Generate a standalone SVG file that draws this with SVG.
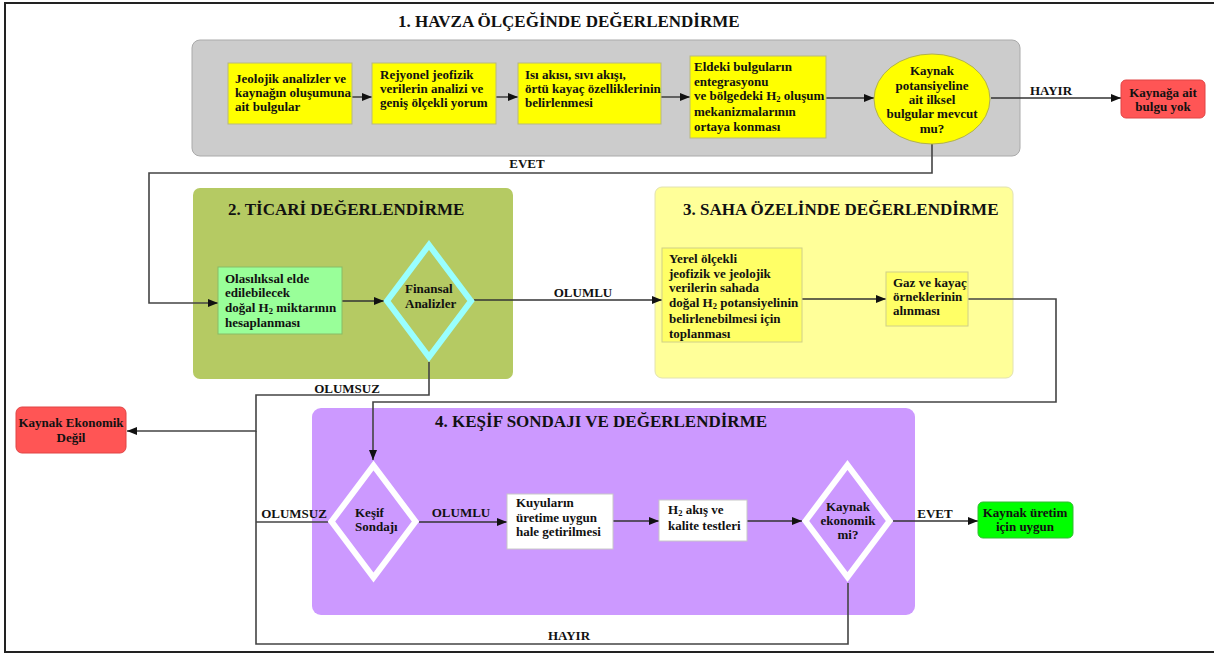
<svg xmlns="http://www.w3.org/2000/svg" width="1214" height="654" viewBox="0 0 1214 654">
<defs>
<marker id="arr" markerWidth="10" markerHeight="8" refX="10" refY="4" orient="auto" markerUnits="userSpaceOnUse">
<path d="M0,0 L10,4 L0,8 z" fill="#111"/>
</marker>
<style>
text{font-family:"Liberation Serif","Times New Roman",serif;font-weight:bold;fill:#111;}
.t{font-size:13px;}
.h{font-size:17px;}
.c{text-anchor:middle;}
.sub{font-size:8.5px;}
.con{fill:none;stroke:#333;stroke-width:1.4;}
.loop{fill:none;stroke:#444;stroke-width:1.6;}
.yb{fill:#ffff00;stroke:#b8b880;stroke-width:1;}
.red{fill:#ff5555;stroke:#e04545;stroke-width:1;}
.wb{fill:#ffffff;stroke:#c8c8c8;stroke-width:1;}
</style>
</defs>
<rect x="0" y="0" width="1214" height="654" fill="#ffffff"/>
<path d="M1216,3 H5 V652 H1216" fill="none" stroke="#222" stroke-width="2"/>

<g id="sec1">
<rect x="192" y="40" width="828" height="116" rx="8" fill="#cccccc" stroke="#aaaaaa" stroke-width="1"/>
<text class="h" x="398" y="27">1. HAVZA ÖLÇEĞİNDE DEĞERLENDİRME</text>
</g>
<g id="sec2">
<rect x="193" y="188" width="320" height="191" rx="7" fill="#b5ca63"/>
<text class="h" x="228" y="215">2. TİCARİ DEĞERLENDİRME</text>
</g>
<g id="sec3">
<rect x="655" y="187" width="358" height="191" rx="7" fill="#ffff99" stroke="#e2e2b0" stroke-width="1"/>
<text class="h" x="683" y="215">3. SAHA ÖZELİNDE DEĞERLENDİRME</text>
</g>
<g id="sec4">
<rect x="312" y="408" width="603" height="207" rx="9" fill="#cc99ff"/>
<text class="h" x="435" y="427">4. KEŞİF SONDAJI VE DEĞERLENDİRME</text>
</g>

<g id="connectors">
<path class="con" d="M352,97 H372" marker-end="url(#arr)"/>
<path class="con" d="M496,97 H518" marker-end="url(#arr)"/>
<path class="con" d="M661,97 H690" marker-end="url(#arr)"/>
<path class="con" d="M826,98 H874" marker-end="url(#arr)"/>
<path class="con" d="M991,98 H1121" marker-end="url(#arr)"/>
<path class="loop" d="M932,143 V173 H149 V303 H218" marker-end="url(#arr)"/>
<path class="con" d="M342,301 H384" marker-end="url(#arr)"/>
<path class="con" d="M474,300 H662" marker-end="url(#arr)"/>
<path class="con" d="M802,299 H886" marker-end="url(#arr)"/>
<path class="loop" d="M968,299 H1056 V402 H373 V460" marker-end="url(#arr)"/>
<path class="loop" d="M429,362 V395 H256 V431 H127" marker-end="url(#arr)"/>
<path class="loop" d="M328,522 H256"/>
<path class="loop" d="M848,583 V644 H256 V431"/>
<path class="con" d="M419,522 H507" marker-end="url(#arr)"/>
<path class="con" d="M613,521 H659" marker-end="url(#arr)"/>
<path class="con" d="M747,521 H802" marker-end="url(#arr)"/>
<path class="con" d="M893,521 H978" marker-end="url(#arr)"/>
<text class="t c" x="1051" y="95">HAYIR</text>
<text class="t c" x="527" y="168">EVET</text>
<text class="t c" x="583" y="297">OLUMLU</text>
<text class="t c" x="347" y="393">OLUMSUZ</text>
<text class="t c" x="294" y="518">OLUMSUZ</text>
<text class="t c" x="461" y="517">OLUMLU</text>
<text class="t c" x="935" y="518">EVET</text>
<text class="t c" x="569" y="640">HAYIR</text>
</g>

<g id="n-jeolojik">
<rect class="yb" x="228" y="63" width="124" height="61"/>
<text class="t" x="235" y="83">Jeolojik analizler ve</text>
<text class="t" x="235" y="97">kaynağın oluşumuna</text>
<text class="t" x="235" y="111">ait bulgular</text>
</g>
<g id="n-rejyonel">
<rect class="yb" x="372" y="63" width="124" height="61"/>
<text class="t" x="380" y="79">Rejyonel jeofizik</text>
<text class="t" x="380" y="93">verilerin analizi ve</text>
<text class="t" x="380" y="107">geniş ölçekli yorum</text>
</g>
<g id="n-isi">
<rect class="yb" x="518" y="63" width="143" height="61"/>
<text class="t" x="525" y="79">Isı akısı, sıvı akışı,</text>
<text class="t" x="525" y="93">örtü kayaç özelliklerinin</text>
<text class="t" x="525" y="107">belirlenmesi</text>
</g>
<g id="n-eldeki">
<rect class="yb" x="690" y="56" width="136" height="82"/>
<text class="t" x="694" y="71">Eldeki bulguların</text>
<text class="t" x="694" y="85.5">entegrasyonu</text>
<text class="t" x="694" y="100">ve bölgedeki H<tspan class="sub" dy="2">2</tspan><tspan dy="-2"> oluşum</tspan></text>
<text class="t" x="694" y="116">mekanizmalarının</text>
<text class="t" x="694" y="131">ortaya konması</text>
</g>
<g id="n-kaynak-pot">
<ellipse cx="932" cy="99" rx="58" ry="45" fill="#ffff00" stroke="#b0b050" stroke-width="1"/>
<text class="t c" x="932" y="75">Kaynak</text>
<text class="t c" x="932" y="89.5">potansiyeline</text>
<text class="t c" x="932" y="104">ait ilksel</text>
<text class="t c" x="932" y="118">bulgular mevcut</text>
<text class="t c" x="932" y="132.5">mu?</text>
</g>
<g id="n-bulgu-yok">
<rect class="red" x="1121" y="80" width="84" height="38" rx="5"/>
<text class="t c" x="1163" y="97">Kaynağa ait</text>
<text class="t c" x="1163" y="111">bulgu yok</text>
</g>

<g id="n-olasiliksal">
<rect x="218" y="267" width="124" height="67" fill="#99ff99" stroke="#88bb66" stroke-width="1"/>
<text class="t" x="225" y="283">Olasılıksal elde</text>
<text class="t" x="225" y="297">edilebilecek</text>
<text class="t" x="225" y="311.5">doğal H<tspan class="sub" dy="2">2</tspan><tspan dy="-2"> miktarının</tspan></text>
<text class="t" x="225" y="327">hesaplanması</text>
</g>
<g id="n-finansal">
<polygon points="429,245 471,301 429,357 387,301" fill="#b5ca63" stroke="#99ffff" stroke-width="6"/>
<text class="t" x="405" y="293">Finansal</text>
<text class="t" x="405" y="308">Analizler</text>
</g>

<g id="n-yerel">
<rect x="662" y="248" width="140" height="94" fill="#ffff66" stroke="#d0d088" stroke-width="1"/>
<text class="t" x="669" y="263">Yerel ölçekli</text>
<text class="t" x="669" y="277.5">jeofizik ve jeolojik</text>
<text class="t" x="669" y="292">verilerin sahada</text>
<text class="t" x="669" y="306.5">doğal H<tspan class="sub" dy="2">2</tspan><tspan dy="-2"> potansiyelinin</tspan></text>
<text class="t" x="669" y="323">belirlenebilmesi için</text>
<text class="t" x="669" y="337.5">toplanması</text>
</g>
<g id="n-gaz">
<rect x="886" y="272" width="82" height="54" fill="#ffff66" stroke="#d0d088" stroke-width="1"/>
<text class="t" x="893" y="287">Gaz ve kayaç</text>
<text class="t" x="893" y="301">örneklerinin</text>
<text class="t" x="893" y="315">alınması</text>
</g>

<g id="n-ekonomik-degil">
<rect class="red" x="16" y="407" width="110" height="46" rx="6"/>
<text class="t c" x="71" y="427">Kaynak Ekonomik</text>
<text class="t c" x="71" y="442">Değil</text>
</g>

<g id="n-kesif">
<polygon points="373.5,465.5 415.5,521.5 373.5,577.5 331.5,521.5" fill="#cc99ff" stroke="#ffffff" stroke-width="6"/>
<text class="t" x="355" y="517">Keşif</text>
<text class="t" x="355" y="531">Sondajı</text>
</g>
<g id="n-kuyular">
<rect class="wb" x="507" y="494" width="106" height="55"/>
<text class="t" x="516" y="507">Kuyuların</text>
<text class="t" x="516" y="522">üretime uygun</text>
<text class="t" x="516" y="536">hale getirilmesi</text>
</g>
<g id="n-h2">
<rect class="wb" x="659" y="500" width="88" height="41"/>
<text class="t" x="668" y="514">H<tspan class="sub" dy="2">2</tspan><tspan dy="-2"> akış ve</tspan></text>
<text class="t" x="668" y="530">kalite testleri</text>
</g>
<g id="n-kaynak-eko">
<polygon points="847.5,465 889.5,521 847.5,577 805.5,521" fill="#cc99ff" stroke="#ffffff" stroke-width="6"/>
<text class="t c" x="848" y="511">Kaynak</text>
<text class="t c" x="848" y="525">ekonomik</text>
<text class="t c" x="848" y="539">mi?</text>
</g>
<g id="n-uretim">
<rect x="978" y="502" width="95" height="36" rx="5" fill="#00ff00" stroke="#33bb33" stroke-width="1"/>
<text class="t c" x="1025" y="517">Kaynak üretim</text>
<text class="t c" x="1025" y="531">için uygun</text>
</g>
</svg>
